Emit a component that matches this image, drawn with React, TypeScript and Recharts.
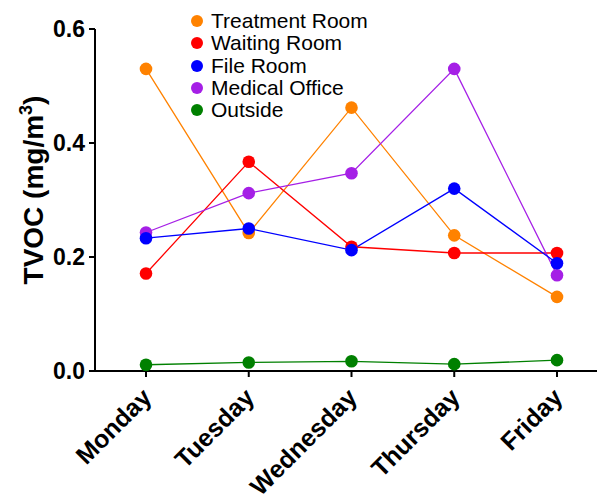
import { LineChart, Line, XAxis, YAxis } from "recharts";

const days = ["Monday", "Tuesday", "Wednesday", "Thursday", "Friday"];
const treatmentRoom = [0.53, 0.242, 0.462, 0.238, 0.13];
const waitingRoom = [0.171, 0.367, 0.218, 0.207, 0.207];
const fileRoom = [0.233, 0.25, 0.212, 0.32, 0.189];
const medicalOffice = [0.243, 0.312, 0.347, 0.53, 0.168];
const outside = [0.011, 0.015, 0.017, 0.012, 0.019];
const yTicks = [0, 0.2, 0.4, 0.6];

const data = days.map((day, i) => ({
  day,
  treatment: treatmentRoom[i],
  waiting: waitingRoom[i],
  file: fileRoom[i],
  medical: medicalOffice[i],
  outside: outside[i],
}));

// legend order
const series = [
  { key: "treatment", name: "Treatment Room", color: "#FF8200" },
  { key: "waiting", name: "Waiting Room", color: "#FF0000" },
  { key: "file", name: "File Room", color: "#0000FF" },
  { key: "medical", name: "Medical Office", color: "#A51FE6" },
  { key: "outside", name: "Outside", color: "#008000" },
];
// drawing order (later on top)
const drawOrder = ["treatment", "waiting", "medical", "file", "outside"];

const FONT = "'Liberation Sans', Arial, sans-serif";

function DayTick({ x, y, payload }: any) {
  const ax = x + 7;
  const ay = y + 20;
  return (
    <text
      x={ax}
      y={ay}
      transform={`rotate(-45 ${ax} ${ay})`}
      textAnchor="end"
      fontFamily={FONT}
      fontWeight="bold"
      fontSize={25}
      fill="#000"
    >
      {payload.value}
    </text>
  );
}

function LegendBox() {
  return (
    <div
      style={{
        position: "absolute",
        left: 190,
        top: 10,
        fontFamily: FONT,
        fontSize: 21,
        color: "#000",
        lineHeight: "22.3px",
      }}
    >
      {series.map((s) => (
        <div key={s.key} style={{ display: "flex", alignItems: "center", height: 22.3 }}>
          <svg width={14} height={14} style={{ marginRight: 7 }}>
            <circle cx={7} cy={7} r={6} fill={s.color} />
          </svg>
          <span>{s.name}</span>
        </div>
      ))}
    </div>
  );
}

export default function App() {
  return (
    <div
      style={{
        position: "absolute",
        left: 0,
        top: 0,
        width: 597,
        height: 495,
        overflow: "hidden",
        background: "#fff",
      }}
    >
      <LineChart
        width={620}
        height={495}
        data={data}
        margin={{ top: 29, right: 12, bottom: 0, left: 0 }}
      >
        <XAxis
          dataKey="day"
          padding={{ left: 51, right: 51 }}
          height={124}
          stroke="#000"
          strokeWidth={2}
          tickSize={6}
          tick={<DayTick />}
          interval={0}
        />
        <YAxis
          width={95}
          domain={[0, 0.6]}
          ticks={yTicks}
          stroke="#000"
          strokeWidth={2}
          tickSize={6}
          tickMargin={4}
          tickFormatter={(v: number) => v.toFixed(1)}
          tick={{ fontFamily: FONT, fontWeight: "bold", fontSize: 23, fill: "#000" }}
          label={{
            content: () => (
              <text
                transform="rotate(-90)"
                x={-190}
                y={43}
                textAnchor="middle"
                fontFamily={FONT}
                fontWeight="bold"
                fontSize={28}
                fill="#000"
              >
                TVOC (mg/m
                <tspan fontSize={18} dy={-11}>3</tspan>
                <tspan dy={11}>)</tspan>
              </text>
            ),
          }}
        />
        {drawOrder.map((k) => {
          const s = series.find((x) => x.key === k)!;
          return (
            <Line
              key={k}
              dataKey={k}
              name={s.name}
              stroke={s.color}
              strokeWidth={1.3}
              dot={{ r: 6.3, fill: s.color, stroke: s.color, strokeWidth: 0 }}
              activeDot={false}
              isAnimationActive={false}
            />
          );
        })}
      </LineChart>
      <LegendBox />
    </div>
  );
}
